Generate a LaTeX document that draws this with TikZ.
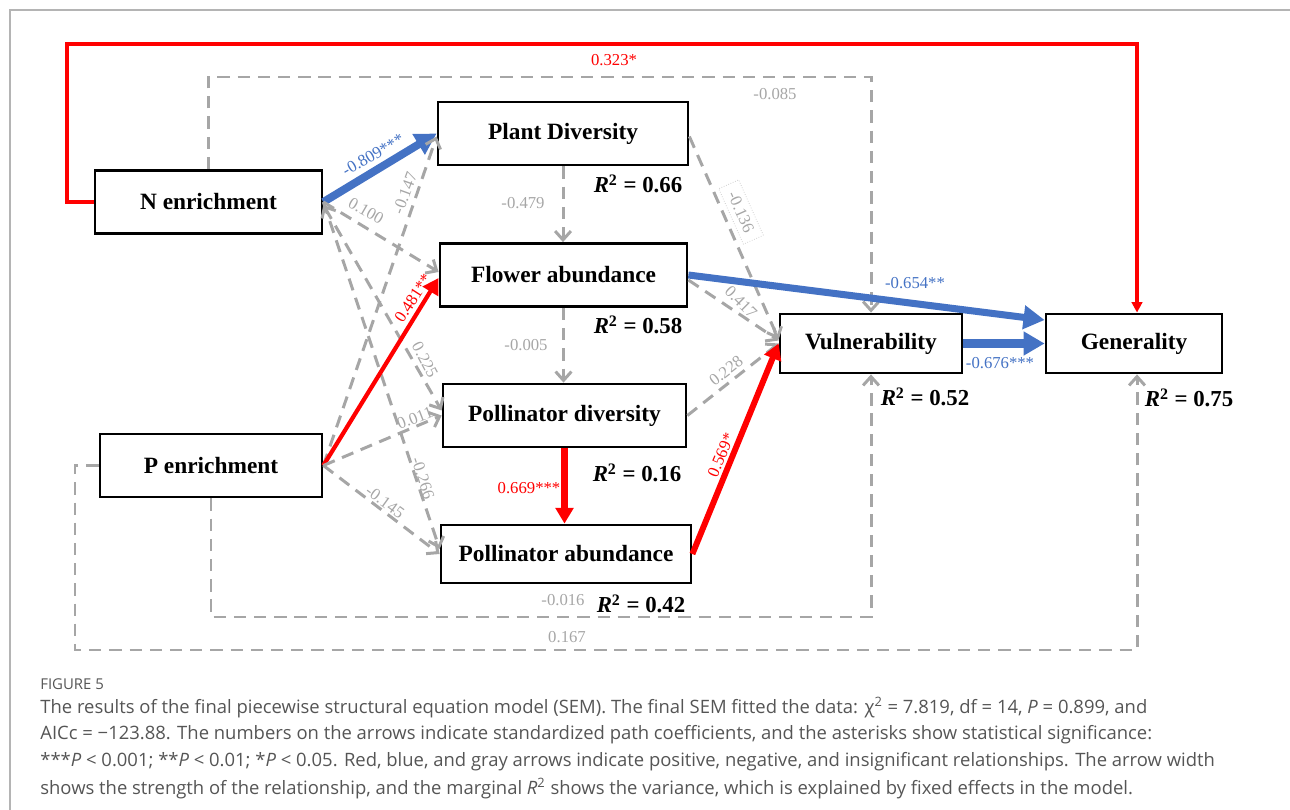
\documentclass[tikz,border=0pt]{standalone}
\usepackage{fontspec}
\setmainfont{Liberation Serif}
\newfontfamily\capfont{Open Sans}
\usetikzlibrary{arrows.meta}
\definecolor{sigred}{RGB}{255,0,0}
\definecolor{sigblue}{RGB}{68,114,196}
\definecolor{nsgray}{RGB}{166,166,166}
\definecolor{capgray}{RGB}{85,85,85}
\definecolor{framegray}{RGB}{180,180,180}
\begin{document}
\begin{tikzpicture}[x=0.02cm,y=-0.02cm,
    var/.style={draw, line width=1.6pt, fill=white, minimum height=1.26cm, inner sep=0pt,
      font=\fontsize{13.3}{15}\selectfont\bfseries},
    rsq/.style={font=\fontsize{13}{15}\selectfont\bfseries, inner sep=0pt},
    coef/.style={font=\fontsize{9.5}{11}\selectfont, text=nsgray, inner sep=1pt},
    nsarrow/.style={nsgray, line width=1.7pt, dash pattern=on 7pt off 4.5pt,
      -{Straight Barb[length=5pt,width=9pt]}},
    posarrow/.style={sigred, -{Triangle[length=9pt,width=10pt]}},
    negarrow/.style={sigblue, -{Triangle[length=12pt,width=13pt]}},
    captext/.style={font=\capfont\fontsize{10.5}{12}\selectfont, text=capgray, anchor=west, inner sep=0pt}]
  \useasboundingbox (0,0) rectangle (1290,810);

  % marco de la figura
  \draw[framegray, line width=0.6pt] (10,810) -- (10,10) -- (1290,10);

  % variables
  \node[var, minimum width=4.54cm] (nenr) at (208.5,202) {N enrichment};
  \node[var, minimum width=4.44cm] (penr) at (211,465.5) {P enrichment};
  \node[var, minimum width=5.00cm] (plant) at (563,133.5) {Plant Diversity};
  \node[var, minimum width=4.94cm] (flower) at (563.5,275) {Flower abundance};
  \node[var, minimum width=4.86cm] (pdiv) at (564.5,415.5) {Pollinator diversity};
  \node[var, minimum width=5.00cm, minimum height=1.16cm] (pab) at (566,554) {Pollinator abundance};
  \node[var, minimum width=3.64cm, minimum height=1.18cm] (vul) at (871,343.5) {Vulnerability};
  \node[var, minimum width=3.52cm, minimum height=1.18cm] (gen) at (1134,343.5) {Generality};

  % R2
  \node[rsq] (r66) at (638,184) {\textit{R}\textsuperscript{2} = 0.66};
  \node[rsq] (r58) at (638,325) {\textit{R}\textsuperscript{2} = 0.58};
  \node[rsq] (r16) at (637,473) {\textit{R}\textsuperscript{2} = 0.16};
  \node[rsq] (r42) at (641,604) {\textit{R}\textsuperscript{2} = 0.42};
  \node[rsq] (r52) at (925,397) {\textit{R}\textsuperscript{2} = 0.52};
  \node[rsq] (r75) at (1189,398) {\textit{R}\textsuperscript{2} = 0.75};

  % esquinas de los caminos largos
  \coordinate (c323) at (67,44);
  \coordinate (c085) at (500,77);
  \coordinate (c016) at (500,617);
  \coordinate (c167) at (75,650);

  % desde N enrichment
  \draw[sigred, line width=2pt, -{Triangle[length=6pt,width=6pt]}]
    (nenr.west) -| (c323) -| ([xshift=0.06cm]gen.north);
  \draw[nsarrow] (nenr.north) |- (c085) -| (vul.north);
  \draw[negarrow, line width=4.5pt] (nenr.east) -- (plant.west);
  \draw[nsarrow] (nenr.east) -- ([yshift=0.06cm]flower.west);
  \draw[nsarrow, {Straight Barb[length=5pt,width=9pt]}-{Straight Barb[length=5pt,width=9pt]}]
    ([yshift=-0.06cm]nenr.east) -- ([yshift=0.1cm]pdiv.west);
  \draw[nsarrow] (nenr.east) -- ([yshift=0.1cm]pab.west);

  % desde P enrichment
  \draw[nsarrow] (penr.east) -- ([yshift=-0.06cm]plant.west);
  \draw[posarrow, line width=2.4pt] (penr.east) -- ([yshift=-0.06cm]flower.west);
  \draw[nsarrow] (penr.east) -- (pdiv.west);
  \draw[nsarrow] (penr.east) -- (pab.west);
  \draw[nsarrow] (penr.south) |- (c016) -| (vul.south);
  \draw[nsarrow] (penr.west) -| (c167) -| ([xshift=0.06cm]gen.south);

  % cadena central
  \draw[nsarrow] (plant.south) -- (plant.south |- flower.north);
  \draw[nsarrow] ([yshift=-0.06cm]plant.east) -- ([yshift=0.08cm]vul.west);
  \draw[negarrow, line width=4pt] (flower.east) -- ([yshift=0.47cm]gen.west);
  \draw[nsarrow] ([yshift=-0.1cm]flower.east) -- ([yshift=0.06cm]vul.west);
  \draw[nsarrow] (flower.south) -- (flower.south |- pdiv.north);
  \draw[nsarrow] (pdiv.east) -- (vul.west);
  \draw[posarrow, line width=4pt] (pdiv.south) -- (pdiv.south |- pab.north);
  \draw[posarrow, line width=3.4pt] (pab.east) -- (vul.west);
  \draw[negarrow, line width=5pt] (vul.east) -- (gen.west);

  % coeficientes
  \node[coef, text=sigred] (l323) at (614,60) {0.323*};
  \node[coef] (l085) at (775,94) {-0.085};
  \node[coef, text=sigblue, rotate=30] (l809) at (373,155) {-0.809***};
  \node[coef, rotate=-30] (l100) at (366,211) {0.100};
  \node[coef, rotate=70] (l147) at (405,193) {-0.147};
  \node[coef, rotate=-62] (l225) at (425,360) {0.225};
  \node[coef, rotate=-72] (l266) at (423,478) {-0.266};
  \node[coef, text=sigred, rotate=57] (l481) at (413,298) {0.481**};
  \node[coef, rotate=21] (l011) at (415,418) {0.011};
  \node[coef, rotate=-36] (l145) at (385,502) {-0.145};
  \node[coef] (l479) at (523,203) {-0.479};
  \node[coef] (l005) at (526,345) {-0.005};
  \node[coef, rotate=-66, draw=nsgray!70, densely dotted, line width=0.4pt,
    inner xsep=5pt, inner ysep=3pt] (l136) at (741,212) {-0.136};
  \node[coef, rotate=-45] (l417) at (741,302) {0.417};
  \node[coef, rotate=38] (l228) at (726,371) {0.228};
  \node[coef, text=sigred] (l669) at (529,488) {0.669***};
  \node[coef, text=sigred, rotate=67] (l569) at (721,455) {0.569*};
  \node[coef, text=sigblue] (l654) at (915,283) {-0.654**};
  \node[coef, text=sigblue] (l676) at (1000,363) {-0.676***};
  \node[coef] (l016) at (563,600) {-0.016};
  \node[coef] (l167) at (567,637) {0.167};

  % leyenda
  \node[captext, font=\capfont\fontsize{8.5}{10}\selectfont] (fig) at (40,684) {FIGURE 5};
  \node[captext] (cap1) at (40,708) {The results of the final piecewise structural equation model (SEM). The final SEM fitted the data: {χ}\textsuperscript{2} = 7.819, df = 14, \textit{P} = 0.899, and};
  \node[captext] (cap2) at (40,735) {AICc = −123.88. The numbers on the arrows indicate standardized path coefficients, and the asterisks show statistical significance:};
  \node[captext] (cap3) at (40,762) {***\textit{P} {<} 0.001; **\textit{P} {<} 0.01; *\textit{P} {<} 0.05. Red, blue, and gray arrows indicate positive, negative, and insignificant relationships. The arrow width};
  \node[captext] (cap4) at (40,789) {shows the strength of the relationship, and the marginal \textit{R}\textsuperscript{2} shows the variance, which is explained by fixed effects in the model.};
\end{tikzpicture}
\end{document}
